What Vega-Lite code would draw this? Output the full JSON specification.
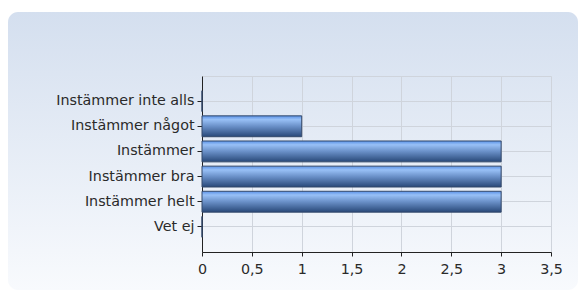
{
  "$schema": "https://vega.github.io/schema/vega-lite/v6.json",
  "width": 570,
  "height": 278,
  "padding": {"left": 8, "top": 12, "right": 2, "bottom": 3},
  "autosize": "none",
  "background": "#ffffff",
  "config": {
    "view": {
      "fill": {"gradient": "linear", "x1": 0, "y1": 0, "x2": 0, "y2": 1, "stops": [{"offset": 0, "color": "#d4dfef"}, {"offset": 1, "color": "#f8fafd"}]},
      "stroke": null,
      "cornerRadius": 10
    },
    "axis": {"labelFont": "DejaVu Sans", "labelFontSize": 14.3, "labelColor": "#2a2a2a", "domainColor": "#222222", "tickColor": "#222222", "gridColor": "#cfd4dc", "gridOpacity": 1}
  },
  "data": {"values": [
    {"kategori": "Instämmer inte alls", "antal": 0},
    {"kategori": "Instämmer något", "antal": 1},
    {"kategori": "Instämmer", "antal": 3},
    {"kategori": "Instämmer bra", "antal": 3},
    {"kategori": "Instämmer helt", "antal": 3},
    {"kategori": "Vet ej", "antal": 0}
  ]},
  "layer": [
    {
      "mark": {
        "type": "bar",
        "stroke": "#33486a",
        "strokeWidth": 1,
        "color": {"gradient": "linear", "x1": 0, "y1": 0, "x2": 0, "y2": 1, "stops": [
          {"offset": 0, "color": "#5a92e8"},
          {"offset": 0.18, "color": "#98c0f6"},
          {"offset": 0.5, "color": "#6a90c8"},
          {"offset": 1, "color": "#284878"}
        ]}
      },
      "encoding": {
        "y": {
          "field": "kategori", "type": "nominal", "sort": null, "title": null,
          "scale": {"range": [64, 240], "paddingInner": 0.17, "paddingOuter": 0.585},
          "axis": {"orient": "left", "offset": -194, "grid": true, "tickSize": 5, "labelPadding": 3}
        },
        "x": {
          "field": "antal", "type": "quantitative", "title": null,
          "scale": {"domain": [0, 3.5], "range": [194, 543], "nice": false},
          "axis": {"orient": "bottom", "offset": -38, "values": [0, 0.5, 1, 1.5, 2, 2.5, 3, 3.5], "tickSize": 4, "labelPadding": 6, "labelFlush": false, "labelExpr": "replace(format(datum.value, '~g'), '.', ',')", "grid": false}
        }
      }
    },
    {
      "mark": {"type": "bar", "opacity": 0},
      "encoding": {
        "y": {"field": "kategori", "type": "nominal", "sort": null},
        "x": {
          "field": "antal", "type": "quantitative", "title": null,
          "axis": {"orient": "top", "offset": -64, "values": [0, 0.5, 1, 1.5, 2, 2.5, 3, 3.5], "ticks": false, "labels": false, "domainColor": "#cfd4dc", "grid": true}
        }
      }
    }
  ]
}
